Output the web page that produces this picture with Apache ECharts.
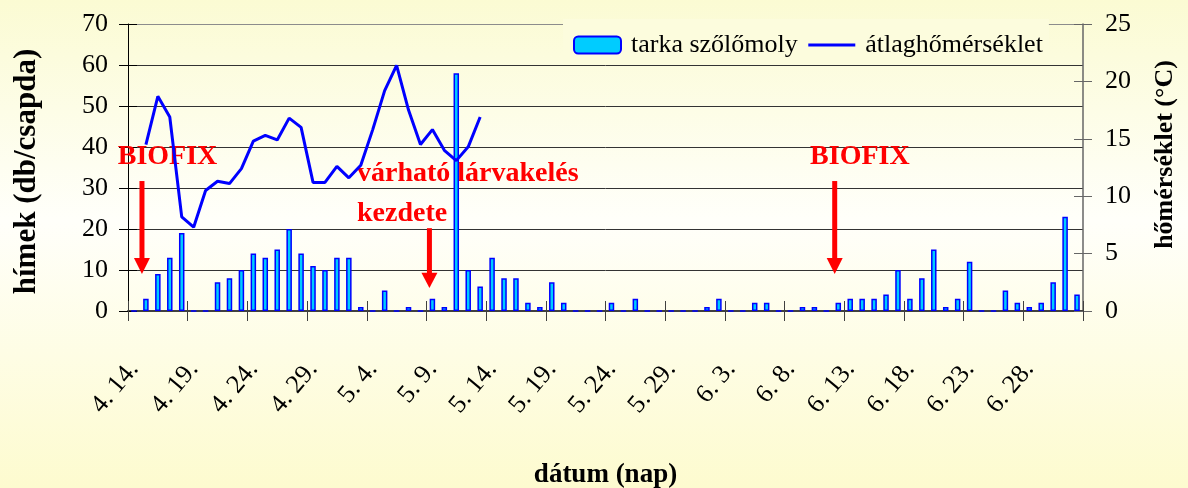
<!DOCTYPE html>
<html>
<head>
<meta charset="utf-8">
<script src="https://cdn.jsdelivr.net/npm/echarts@6/dist/echarts.min.js"></script>
<style>html,body{margin:0;padding:0;background:#fff;}#c{width:1188px;height:488px;}</style>
</head>
<body>
<div id="c"></div>
<script>
// ---- data ----
const categories = [
  '4. 14.','4. 15.','4. 16.','4. 17.','4. 18.','4. 19.','4. 20.','4. 21.','4. 22.','4. 23.',
  '4. 24.','4. 25.','4. 26.','4. 27.','4. 28.','4. 29.','4. 30.',
  '5. 1.','5. 2.','5. 3.','5. 4.','5. 5.','5. 6.','5. 7.','5. 8.','5. 9.','5. 10.',
  '5. 11.','5. 12.','5. 13.','5. 14.','5. 15.','5. 16.','5. 17.','5. 18.','5. 19.','5. 20.',
  '5. 21.','5. 22.','5. 23.','5. 24.','5. 25.','5. 26.','5. 27.','5. 28.','5. 29.','5. 30.','5. 31.',
  '6. 1.','6. 2.','6. 3.','6. 4.','6. 5.','6. 6.','6. 7.','6. 8.','6. 9.','6. 10.',
  '6. 11.','6. 12.','6. 13.','6. 14.','6. 15.','6. 16.','6. 17.','6. 18.','6. 19.','6. 20.',
  '6. 21.','6. 22.','6. 23.','6. 24.','6. 25.','6. 26.','6. 27.','6. 28.','6. 29.','6. 30.',
  '7. 1.','7. 2.'
];
const males = [
  0, 3, 9, 13, 19, 0, 0, 7, 8, 10,
  14, 13, 15, 20, 14, 11, 10, 13, 13, 1,
  0, 5, 0, 1, 0, 3, 1, 58, 10, 6,
  13, 8, 8, 2, 1, 7, 2, 0, 0, 0,
  2, 0, 3, 0, 0, 0, 0, 0, 1, 3,
  0, 0, 2, 2, 0, 0, 1, 1, 0, 2,
  3, 3, 3, 4, 10, 3, 8, 15, 1, 3,
  12, 0, 0, 5, 2, 1, 2, 7, 23, 4
];
const temperature = [
  null, 14.5, 18.7, 16.9, 8.2, 7.3, 10.5, 11.3, 11.1, 12.4,
  14.8, 15.3, 14.9, 16.8, 16.0, 11.2, 11.2, 12.6, 11.6, 12.7,
  15.8, 19.2, 21.4, 17.5, 14.5, 15.8, 14.0, 13.1, 14.3, 16.9
];
const seriesNames = ['tarka szőlőmoly', 'átlaghőmérséklet'];
const axisTitles = { x: 'dátum (nap)', yLeft: 'hímek (db/csapda)', yRight: 'hőmérséklet (°C)' };
// annotations: [text lines], position in (category index, left-axis value)
const annotations = [
  { lines: ['BIOFIX'], cat: 2.81, val: 37.7, align: 'center', arrow: { cat: 0.67, top: 31.7, base: 12.9, tip: 9.0 } },
  { lines: ['várható lárvakelés', 'kezdete'], cat: 18.68, val: 33.5, lineStep: 9.75, align: 'left', arrow: { cat: 24.75, top: 20.2, base: 9.3, tip: 5.6 } },
  { lines: ['BIOFIX'], cat: 60.81, val: 37.5, align: 'center', arrow: { cat: 58.7, top: 31.7, base: 12.9, tip: 9.0 } }
];

// ---- chart ----
const FONT = '"Liberation Serif", "Times New Roman", serif';
const chart = echarts.init(document.getElementById('c'), null, { renderer: 'canvas' });
const G = { left: 128, right: 105, top: 24, bottom: 177, outerBoundsMode: 'none', containLabel: false };
const splitColors = ['#333','#333','#333','#333','#333','#333','#333','#8c8c8c'];

const option = {
  animation: false,
  backgroundColor: {
    type: 'linear', x: 0, y: 0, x2: 0, y2: 1,
    colorStops: [
      { offset: 0, color: '#FBFBD3' },
      { offset: 0.45, color: '#FFFFFA' },
      { offset: 1, color: '#FDFBCF' }
    ]
  },
  textStyle: { fontFamily: FONT },
  grid: [ Object.assign({}, G), Object.assign({}, G) ],
  legend: {
    data: [
      { name: seriesNames[0] },
      { name: seriesNames[1], itemStyle: { opacity: 0, color: 'rgba(0,0,0,0)', borderColor: 'rgba(0,0,0,0)', borderWidth: 0 },
        lineStyle: { width: 3, color: '#0000FF', opacity: 1 } }
    ],
    left: 563, top: 19,
    padding: [12, 6, 5, 10],
    backgroundColor: '#FCFCDD',
    itemWidth: 47, itemHeight: 17, itemGap: 9,
    textStyle: { fontFamily: FONT, fontSize: 26, color: '#000', lineHeight: 28, padding: [0, 0, 0, 5] }
  },
  xAxis: [
    {
      type: 'category', data: categories, gridIndex: 0, boundaryGap: true,
      axisLine: { show: true, lineStyle: { color: '#404040', width: 2 } },
      axisTick: { show: true, interval: 4, length: 10, lineStyle: { color: '#404040', width: 1 } },
      axisLabel: { interval: 4, rotate: 50, margin: 54, fontSize: 26, color: '#000', fontFamily: FONT },
      splitLine: { show: false },
      name: axisTitles.x, nameLocation: 'middle', nameGap: 151,
      nameTextStyle: { fontSize: 27, fontWeight: 'bold', color: '#000', fontFamily: FONT }
    },
    {
      type: 'category', data: categories, gridIndex: 1, boundaryGap: true,
      axisLine: { show: false },
      axisTick: { show: true, inside: true, interval: 4, length: 10, lineStyle: { color: '#404040', width: 1 } },
      axisLabel: { show: false }, splitLine: { show: false }
    }
  ],
  yAxis: [
    {
      type: 'value', gridIndex: 0, position: 'left', min: 0, max: 70, interval: 10,
      axisLine: { show: true, lineStyle: { color: '#000', width: 1 } },
      axisTick: { show: true, length: 9, lineStyle: { color: '#000' } },
      axisLabel: { fontSize: 26, color: '#000', margin: 20, fontFamily: FONT },
      splitLine: { show: true, lineStyle: { color: splitColors, width: 1 } },
      name: axisTitles.yLeft, nameLocation: 'middle', nameGap: 86, nameRotate: 90,
      nameTextStyle: { fontSize: 31, fontWeight: 'bold', color: '#000', fontFamily: FONT, padding: [0, 8, 0, 0] }
    },
    {
      type: 'value', gridIndex: 0, position: 'right', min: 0, max: 25, interval: 5,
      axisLine: { show: true, lineStyle: { color: '#666', width: 1.5 } },
      axisTick: { show: true, length: 9, lineStyle: { color: '#666' } },
      axisLabel: { fontSize: 26, color: '#000', margin: 22, fontFamily: FONT },
      splitLine: { show: false },
      name: axisTitles.yRight, nameLocation: 'middle', nameGap: 69, nameRotate: 90,
      nameTextStyle: { fontSize: 26, fontWeight: 'bold', color: '#000', fontFamily: FONT, padding: [0, 0, 0, 26] }
    },
    {
      type: 'value', gridIndex: 1, position: 'left', min: 0, max: 70, interval: 10,
      axisLine: { show: false },
      axisTick: { show: true, inside: true, length: 9, lineStyle: { color: '#000' } },
      axisLabel: { show: false }, splitLine: { show: false }
    },
    {
      type: 'value', gridIndex: 1, position: 'right', min: 0, max: 25, interval: 5,
      axisLine: { show: false },
      axisTick: { show: true, inside: true, length: 9, lineStyle: { color: '#666' } },
      axisLabel: { show: false }, splitLine: { show: false }
    }
  ],
  series: [
    {
      type: 'bar', name: seriesNames[0], data: males, xAxisIndex: 0, yAxisIndex: 0,
      barWidth: 5.5,
      itemStyle: { color: '#00CCFF', borderColor: '#0000FF', borderWidth: 1.5 }
    },
    {
      type: 'line', name: seriesNames[1], data: temperature, xAxisIndex: 0, yAxisIndex: 1,
      symbol: 'none', showSymbol: false, connectNulls: false,
      lineStyle: { color: '#0000FF', width: 3 }, itemStyle: { color: '#0000FF' }
    }
  ]
};
chart.setOption(option);

// annotations placed through the chart's own axes
function toPx(cat, val) {
  const i = Math.floor(cat), f = cat - i;
  const a = chart.convertToPixel({ seriesIndex: 0 }, [i, val]);
  const b = chart.convertToPixel({ seriesIndex: 0 }, [i + 1, val]);
  return [a[0] + f * (b[0] - a[0]), a[1]];
}
const graphics = [];
annotations.forEach(function (an) {
  an.lines.forEach(function (t, k) {
    const p = toPx(an.cat, an.val - k * (an.lineStep || 0));
    graphics.push({
      type: 'text', z: 1, x: p[0], y: p[1],
      style: { text: t, fill: '#FF0000', fontSize: 28, fontWeight: 'bold', fontFamily: FONT, align: an.align, verticalAlign: 'middle' }
    });
  });
  const top = toPx(an.arrow.cat, an.arrow.top);
  const base = toPx(an.arrow.cat, an.arrow.base);
  const tip = toPx(an.arrow.cat, an.arrow.tip);
  const cx = top[0];
  graphics.push({ type: 'rect', z: 1, shape: { x: cx - 2.5, y: top[1], width: 5, height: base[1] - top[1] + 1 }, style: { fill: '#FF0000' } });
  graphics.push({ type: 'polygon', z: 1, shape: { points: [[cx - 8, base[1]], [cx + 8, base[1]], [cx, tip[1]]] }, style: { fill: '#FF0000' } });
});
chart.setOption({ graphic: graphics });
</script>
</body>
</html>
